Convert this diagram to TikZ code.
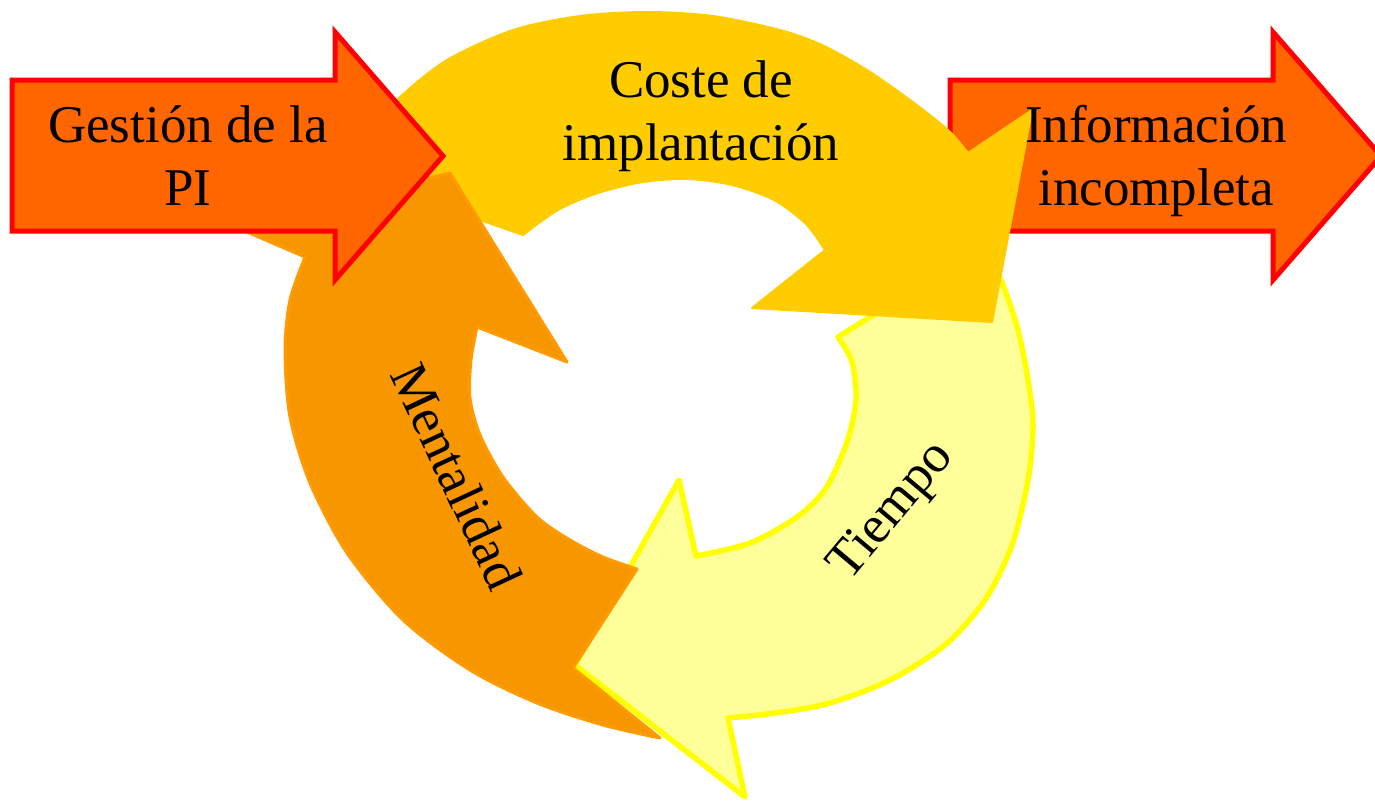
\documentclass[tikz,border=0pt]{standalone}
\usepackage{fontspec}
\setmainfont{Liberation Serif}
\definecolor{blockfill}{HTML}{FF6600}
\definecolor{blockline}{HTML}{FF0000}
\definecolor{costefill}{HTML}{FFCC00}
\definecolor{tiempofill}{HTML}{FFFF99}
\definecolor{tiempoline}{HTML}{FFFF00}
\definecolor{mentfill}{RGB}{248,150,0}
\definecolor{mentline}{RGB}{255,155,0}
\begin{document}
\begin{tikzpicture}[x=1pt,y=-1pt,
  blockarrow/.style={fill=blockfill, draw=blockline, line width=5pt, line join=miter},
  costearrow/.style={fill=costefill, draw=costefill, line width=2pt, line join=round},
  tiempoarrow/.style={fill=tiempofill, draw=tiempoline, line width=5.5pt, line join=round},
  mentarrow/.style={fill=mentfill, draw=mentline, line width=3pt, line join=round},
  lbl/.style={font=\fontsize{53}{63}\selectfont, align=center, inner sep=0pt, text=black}]
\useasboundingbox (0,0) rectangle (1375,801);

% right block arrow (bottom-most)
\draw[blockarrow] (950,80) -- (1273,80) -- (1273,32) -- (1381,156) -- (1273,280) -- (1273,231) -- (950,231) -- cycle;

% Tiempo arrow
\draw[tiempoarrow] (838,337) -- (985,245) -- plot[smooth] coordinates {(985,245) (1003,285) (1018,330) (1028,380) (1033,425) (1028,480) (1012,545) (985,600) (945,645) (890,680) (830,703) (775,713) (728,718)} -- (745,797) -- (575,665) -- (679,480) -- (696,556) -- plot[smooth] coordinates {(696,556) (750,543) (797,517) (826,488) (847,442) (856,400) (852,362) (838,337)} -- cycle;

% Coste arrow
\draw[costearrow] (523,235) -- (350,175) -- plot[smooth] coordinates {(350,175) (365,135) (400,97) (447,60) (513,30) (580,16) (647,12) (713,16) (780,30) (822,45) (867,70) (910,100) (948,130) (968,153)} -- (1032,110) -- (992,322) -- (752,308) -- (825,250) -- plot[smooth] coordinates {(825,250) (806,224) (774,200) (732,185) (688,179) (643,182) (598,193) (558,210) (523,235)} -- cycle;

% Mentalidad arrow
\draw[mentarrow] (660,738) -- (573,668) -- (637,569) -- plot[smooth] coordinates {(637,569) (603,557) (570,540) (537,517) (503,477) (480,435) (470,398) (471,360) (477,327)} -- (567,362) -- (450,173) -- (233,226) -- (305,257) -- plot[smooth] coordinates {(305,257) (290,300) (285,350) (290,417) (310,483) (347,553) (403,620) (470,670) (537,703) (603,725) (660,738)} -- cycle;

% left block arrow (top-most)
\draw[blockarrow] (12,80) -- (335,80) -- (335,32) -- (443,156) -- (335,280) -- (335,231) -- (12,231) -- cycle;

% labels
\node[lbl, anchor=base] (gestion) at (188,205) {Gestión de la\\PI};
\node[lbl, anchor=base] (info) at (1156,205) {Información\\incompleta};
\node[lbl, anchor=base] (coste) at (701,160) {Coste de\\implantación};
\node[lbl, rotate=-65] (ment) at (457,476) {Mentalidad};
\node[lbl, rotate=50] (tiempo) at (893,512) {Tiempo};
\end{tikzpicture}
\end{document}
